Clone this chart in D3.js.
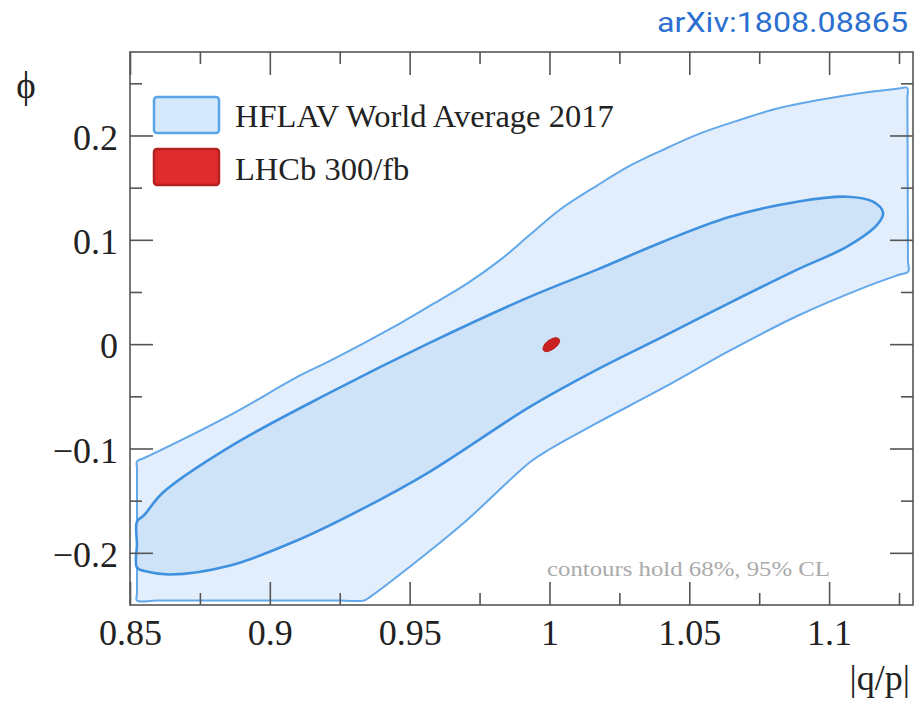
<!DOCTYPE html>
<html>
<head>
<meta charset="utf-8">
<script src="https://cdn.jsdelivr.net/npm/d3@7"></script>
<style>
	body { margin: 0; background: #fff; }
	svg { display: block; }
	.tick text { font-family: "Liberation Serif", "Times New Roman", serif; fill: #222; }
</style>
</head>
<body>
<svg id="chart" width="915" height="704"></svg>
<script>
// tick values
var xTicks = [0.85, 0.9, 0.95, 1, 1.05, 1.1];
var xMinor = [0.875, 0.925, 0.975, 1.025, 1.075, 1.125];
var yTicks = [-0.2, -0.1, 0, 0.1, 0.2];
var yMinor = [-0.15, -0.05, 0.05, 0.15, 0.25];

// HFLAV 95% CL contour [|q/p|, phi]
var contour95 = [
	[0.8525, -0.1125], [0.8545, -0.1098], [0.8582, -0.1052], [0.8858, -0.0680],
	[0.9108, -0.0300], [0.9215, -0.0160], [0.9466, 0.0200], [0.9584, 0.0385],
	[0.9705, 0.0580], [0.9823, 0.0805], [0.9931, 0.1050], [1.0038, 0.1290],
	[1.0170, 0.1520], [1.0288, 0.1710], [1.0396, 0.1850], [1.0539, 0.2020],
	[1.0682, 0.2150], [1.0825, 0.2265], [1.1064, 0.2385], [1.1250, 0.2450],
	[1.1279, 0.2457], [1.1280, 0.2350], [1.1282, 0.0800], [1.1283, 0.0695],
	[1.1250, 0.0665], [1.1122, 0.0540], [1.0886, 0.0270], [1.0646, -0.0060],
	[1.0406, -0.0420], [1.0170, -0.0755], [1.0002, -0.1005], [0.9931, -0.1130],
	[0.9691, -0.1720], [0.9512, -0.2110], [0.9360, -0.2420], [0.9337, -0.2457],
	[0.9250, -0.2457], [0.8600, -0.2457], [0.8525, -0.2457], [0.8525, -0.2380],
	[0.8525, -0.1200]
];

// HFLAV 68% CL contour
var contour68 = [
	[0.8525, -0.1700], [0.8550, -0.1640], [0.8618, -0.1422], [0.8858, -0.0982],
	[0.9215, -0.0465], [0.9573, 0.0014], [0.9931, 0.0455], [1.0170, 0.0714],
	[1.0406, 0.0982], [1.0646, 0.1221], [1.0886, 0.1365], [1.1064, 0.1413],
	[1.1157, 0.1365], [1.1193, 0.1260], [1.1172, 0.1145], [1.1064, 0.0934],
	[1.0886, 0.0714], [1.0646, 0.0398], [1.0406, 0.0072], [1.0170, -0.0244],
	[0.9931, -0.0599], [0.9573, -0.1221], [0.9333, -0.1576], [0.9097, -0.1882],
	[0.8858, -0.2121], [0.8643, -0.2208], [0.8560, -0.2180], [0.8525, -0.2141],
	[0.8525, -0.1920]
];

// LHCb 300/fb projection
var contourLHCb = [
	[0.99771, -0.0053], [0.99843, 0.0005], [1.00021, 0.0043], [1.00236, 0.0062],
	[1.00361, 0.0043], [1.00308, -0.0005], [1.00093, -0.0053], [0.99878, -0.0072]
];

var legendLabels = ["HFLAV World Average 2017", "LHCb 300/fb"];

var plotL = 130, plotR = 913, plotT = 52, plotB = 605;

var svg = d3.select("#chart");

var x = d3.scaleLinear().domain([0.85, 1.13]).range([plotL, plotR]);
var y = d3.scaleLinear().domain([-0.25, 0.28]).range([plotB, plotT]);

function fmt(d) {
	return (d < 0 ? "\u2212" : "") + Math.abs(d);
}

svg.append("defs").append("clipPath").attr("id", "plotClip")
	.append("rect")
	.attr("x", plotL).attr("y", plotT)
	.attr("width", plotR - plotL).attr("height", plotB - plotT);

var line = d3.line()
	.x(function(d) { return x(d[0]); })
	.y(function(d) { return y(d[1]); })
	.curve(d3.curveCatmullRomClosed.alpha(0.5));

var g = svg.append("g").attr("clip-path", "url(#plotClip)");

g.append("path")
	.attr("d", line(contour95))
	.style("fill", "#e2eefb")
	.style("stroke", "#62a8ea")
	.style("stroke-width", 2)
	.style("stroke-linejoin", "round");

g.append("path")
	.attr("d", line(contour68))
	.style("fill", "#cfe3f8")
	.style("stroke", "#3f91e0")
	.style("stroke-width", 2.6);

g.append("path")
	.attr("d", line(contourLHCb))
	.style("fill", "#cc1f1f")
	.style("stroke", "#b51a1a")
	.style("stroke-width", 1);

// axes, ticks inward on all four sides
function drawAxis(axis, tx, ty, vals, size, labels) {
	var a = svg.append("g")
		.attr("transform", "translate(" + tx + "," + ty + ")")
		.call(axis.tickValues(vals).tickSizeInner(size).tickSizeOuter(0)
			.tickPadding(labels ? 13 : 0)
			.tickFormat(labels ? fmt : ""));
	a.select(".domain").remove();
	a.selectAll(".tick line").style("stroke", "#555").style("stroke-width", 1.6);
	a.selectAll(".tick text").style("font-size", "36px");
	return a;
}

var ax = drawAxis(d3.axisBottom(x), 0, plotB, xTicks, -23, true);
ax.selectAll(".tick text").attr("y", 14);
drawAxis(d3.axisBottom(x), 0, plotB, xMinor, -12, false);
drawAxis(d3.axisTop(x), 0, plotT, xTicks, -23, false);
drawAxis(d3.axisTop(x), 0, plotT, xMinor, -12, false);

var ay = drawAxis(d3.axisLeft(y), plotL, 0, yTicks, -23, true);
ay.selectAll(".tick text").attr("x", -12).attr("dy", "0.38em");
drawAxis(d3.axisLeft(y), plotL, 0, yMinor, -12, false);
drawAxis(d3.axisRight(y), plotR, 0, yTicks, -23, false);
drawAxis(d3.axisRight(y), plotR, 0, yMinor, -12, false);

svg.append("rect")
	.attr("x", plotL).attr("y", plotT)
	.attr("width", plotR - plotL).attr("height", plotB - plotT)
	.style("fill", "none")
	.style("stroke", "#555")
	.style("stroke-width", 1.6);

// legend
var legendFill = ["#d6e8fb", "#e02c2c"];
var legendStroke = ["#5aa4e8", "#b52020"];
var legend = svg.append("g");
legendLabels.forEach(function(label, i) {
	legend.append("rect")
		.attr("x", 154).attr("y", 97 + i * 52)
		.attr("width", 65).attr("height", 36)
		.attr("rx", 3)
		.style("fill", legendFill[i])
		.style("stroke", legendStroke[i])
		.style("stroke-width", 2.5);
	legend.append("text")
		.attr("x", 235).attr("y", 127 + i * 52.5)
		.style("font-family", "Liberation Serif, serif")
		.style("font-size", "32.5px")
		.style("fill", "#222")
		.text(label);
});

svg.append("text")
	.attr("x", 547).attr("y", 576)
	.attr("textLength", 283)
	.attr("lengthAdjust", "spacingAndGlyphs")
	.style("font-family", "Liberation Serif, serif")
	.style("font-size", "22px")
	.style("fill", "#aaa")
	.text("contours hold 68%, 95% CL");

// axis titles
svg.append("text")
	.attr("x", 26).attr("y", 98)
	.attr("text-anchor", "middle")
	.style("font-family", "Liberation Serif, serif")
	.style("font-size", "37px")
	.style("fill", "#222")
	.text("\u03d5");

svg.append("text")
	.attr("x", 910).attr("y", 690)
	.attr("text-anchor", "end")
	.style("font-family", "Liberation Serif, serif")
	.style("font-size", "36px")
	.style("fill", "#222")
	.text("|q/p|");

svg.append("text")
	.attr("x", 908).attr("y", 32)
	.attr("text-anchor", "end")
	.attr("textLength", 251)
	.attr("lengthAdjust", "spacingAndGlyphs")
	.style("font-family", "Roboto, sans-serif")
	.style("font-size", "27px")
	.style("fill", "#2b6fd0")
	.text("arXiv:1808.08865");
</script>
</body>
</html>
